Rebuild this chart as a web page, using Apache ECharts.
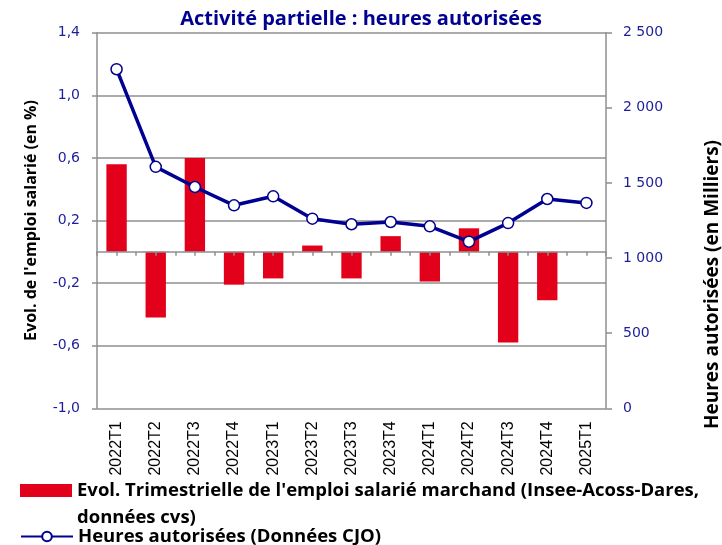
<!DOCTYPE html>
<html>
<head>
<meta charset="utf-8">
<script src="https://cdn.jsdelivr.net/npm/echarts@6/dist/echarts.min.js"></script>
<style>html,body{margin:0;padding:0;background:#fff;}#chart{width:722px;height:545px;}</style>
</head>
<body>
<div id="chart"></div>
<script>
const categories = ['2022T1','2022T2','2022T3','2022T4','2023T1','2023T2','2023T3','2023T4','2024T1','2024T2','2024T3','2024T4','2025T1'];
const emploiValues = [0.56, -0.42, 0.60, -0.21, -0.17, 0.04, -0.17, 0.10, -0.19, 0.15, -0.58, -0.31, null];
const heuresValues = [2257, 1607, 1473, 1351, 1411, 1262, 1225, 1240, 1211, 1109, 1233, 1393, 1367];
const leftTicks = [-1.0, -0.6, -0.2, 0.2, 0.6, 1.0, 1.4];
const rightTicks = [0, 500, 1000, 1500, 2000, 2500];
const halfCategories = categories.flatMap(c => [c + 'a', c + 'b']);

const barName = "Evol. Trimestrielle de l'emploi salarié marchand (Insee-Acoss-Dares, données cvs)";
const barLegendLines = ["Evol. Trimestrielle de l'emploi salarié marchand (Insee-Acoss-Dares,", 'données cvs)'];
const lineName = 'Heures autorisées (Données CJO)';
const navy = '#000091';
const tickBlue = '#1d1d9b';
const grey = '#8f8f8f';
const boldFont = 'Open Sans';

const chart = echarts.init(document.getElementById('chart'), null, {renderer: 'canvas'});
chart.setOption({
  animation: false,
  backgroundColor: '#fff',
  title: {
    text: 'Activité partielle : heures autorisées',
    left: 'center', top: 9, padding: 0,
    textStyle: {fontFamily: boldFont, fontWeight: 'bold', fontSize: 20, color: navy}
  },
  grid: {left: 97, right: 116, top: 32.7, bottom: 136.7, containLabel: false, outerBoundsMode: 'none'},
  legend: [
    {
      data: [barName], left: 20, top: 450, padding: 0,
      itemWidth: 52, itemHeight: 13, icon: 'rect', selectedMode: false,
      formatter: () => '\n' + barLegendLines.join('\n'),
      textStyle: {fontFamily: boldFont, fontWeight: 'bold', fontSize: 18.5, color: '#000', lineHeight: 27}
    },
    {
      data: [lineName], left: 20, top: 527, padding: 0,
      itemWidth: 52, itemHeight: 12, selectedMode: false,
      textStyle: {fontFamily: boldFont, fontWeight: 'bold', fontSize: 18.5, color: '#000'}
    }
  ],
  xAxis: [
    {
      type: 'category', data: categories, position: 'bottom',
      axisLine: {show: false, onZero: false}, axisTick: {show: false},
      axisLabel: {rotate: 90, margin: 13, interval: 0, fontFamily: 'Liberation Sans', fontSize: 16, color: '#000'},
      splitLine: {show: false}
    },
    {
      type: 'category', data: halfCategories, position: 'bottom', z: 3,
      axisLine: {show: true, onZero: true, onZeroAxisIndex: 0, lineStyle: {color: grey, width: 1.5}},
      axisTick: {show: true, interval: 0, length: 4, lineStyle: {color: grey, width: 1.5}},
      axisLabel: {show: false}, splitLine: {show: false}
    }
  ],
  yAxis: [
    {
      type: 'value', min: -1.0, max: 1.4, position: 'left',
      name: "Evol. de l'emploi salarié (en %)", nameLocation: 'middle', nameRotate: 90, nameGap: 58,
      nameTextStyle: {fontFamily: boldFont, fontWeight: 'bold', fontSize: 16, color: '#000'},
      axisLine: {show: true, lineStyle: {color: grey, width: 1.5}},
      axisTick: {show: true, length: 5, customValues: leftTicks, lineStyle: {color: grey, width: 1.5}},
      axisLabel: {customValues: leftTicks, margin: 17, fontFamily: 'DejaVu Sans', fontSize: 14, color: tickBlue,
        formatter: v => v.toFixed(1).replace('.', ',')},
      splitLine: {show: true, lineStyle: {color: grey, width: 1.5}}
    },
    {
      type: 'value', min: 0, max: 2500, interval: 500, position: 'right',
      name: 'Heures autorisées (en Milliers)', nameLocation: 'middle', nameRotate: 90, nameGap: 97,
      nameTextStyle: {fontFamily: boldFont, fontWeight: 'bold', fontSize: 19, color: '#000', padding: [0, 128, 0, 0]},
      axisLine: {show: true, lineStyle: {color: grey, width: 1.5}},
      axisTick: {show: true, length: 6, lineStyle: {color: grey, width: 1.5}},
      axisLabel: {margin: 17, fontFamily: 'DejaVu Sans', fontSize: 14, color: tickBlue,
        formatter: v => String(v).replace(/\B(?=(\d{3})+(?!\d))/g, ' ')},
      splitLine: {show: false}
    }
  ],
  series: [
    {
      name: barName, type: 'bar', xAxisIndex: 0, yAxisIndex: 0,
      data: emploiValues, barWidth: '52%',
      itemStyle: {color: '#e2001a'}
    },
    {
      name: lineName, type: 'line', xAxisIndex: 0, yAxisIndex: 1,
      data: heuresValues, symbol: 'circle', symbolSize: 11,
      lineStyle: {color: navy, width: 3.5},
      itemStyle: {color: '#fff', borderColor: navy, borderWidth: 1.5},
      z: 4
    }
  ]
});
</script>
</body>
</html>
